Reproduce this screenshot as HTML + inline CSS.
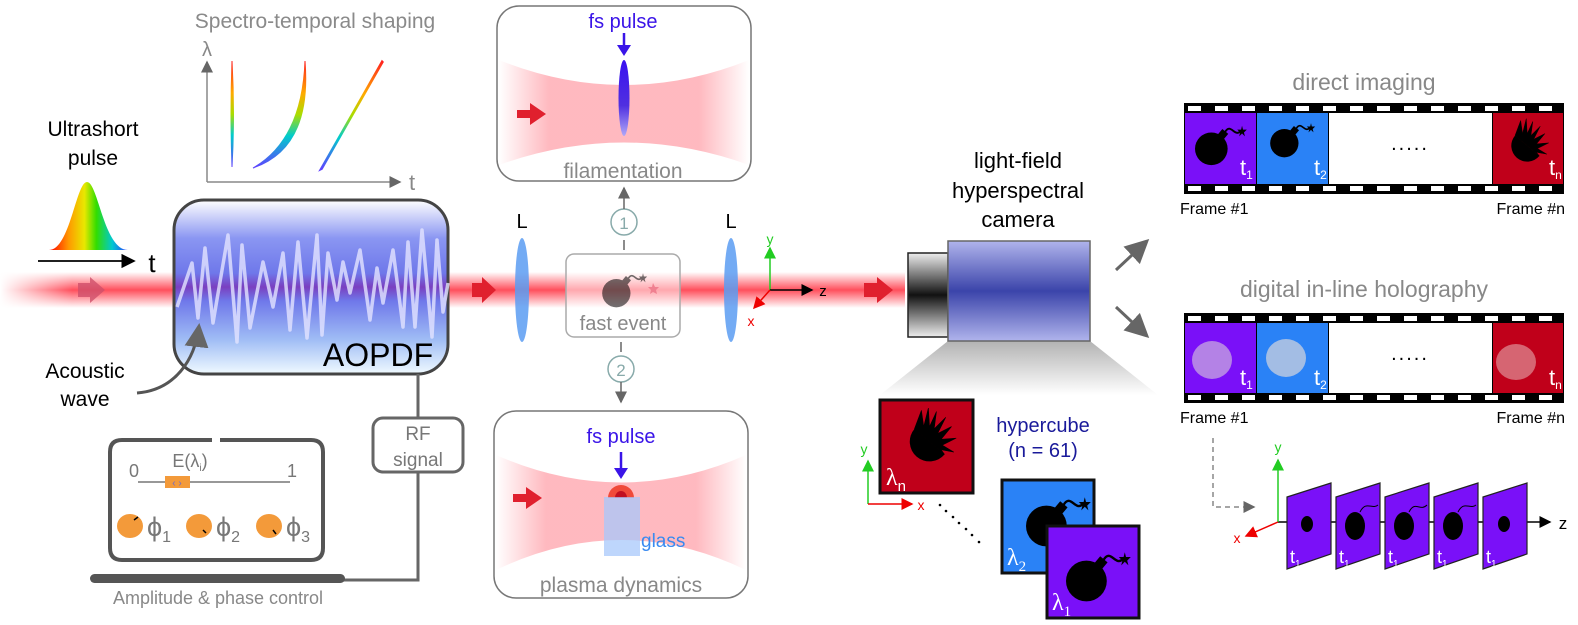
<!DOCTYPE html>
<html><head><meta charset="utf-8"><style>
html,body{margin:0;padding:0;background:#fff;}
svg{display:block;font-family:"Liberation Sans",sans-serif;}
</style></head><body>
<svg width="1578" height="625" viewBox="0 0 1578 625" xmlns="http://www.w3.org/2000/svg">
<defs>
<linearGradient id="beamV" x1="0" y1="0" x2="0" y2="1">
<stop offset="0" stop-color="#ff3040" stop-opacity="0"/>
<stop offset="0.5" stop-color="#ff3040" stop-opacity="0.85"/>
<stop offset="1" stop-color="#ff3040" stop-opacity="0"/>
</linearGradient>
<linearGradient id="beamH" x1="0" y1="0" x2="1" y2="0">
<stop offset="0" stop-color="#fff" stop-opacity="1"/>
<stop offset="0.08" stop-color="#fff" stop-opacity="0"/>
<stop offset="1" stop-color="#fff" stop-opacity="0"/>
</linearGradient>
<linearGradient id="aopdf" x1="0" y1="0" x2="0" y2="1">
<stop offset="0" stop-color="#ffffff"/>
<stop offset="0.22" stop-color="#8a96f2"/>
<stop offset="0.42" stop-color="#6f78ea"/>
<stop offset="0.5" stop-color="#7a3fc0"/>
<stop offset="0.58" stop-color="#6f78ea"/>
<stop offset="0.8" stop-color="#9fbcf5"/>
<stop offset="1" stop-color="#f0faff"/>
</linearGradient>
<linearGradient id="rainbow" x1="0" y1="0" x2="1" y2="0">
<stop offset="0" stop-color="#ff0000"/><stop offset="0.25" stop-color="#ff9900"/>
<stop offset="0.45" stop-color="#e8e800"/><stop offset="0.6" stop-color="#33dd00"/>
<stop offset="0.8" stop-color="#00c8d0"/><stop offset="1" stop-color="#2a3cff"/>
</linearGradient>
<linearGradient id="rainV" x1="0" y1="0" x2="0" y2="1">
<stop offset="0" stop-color="#ff2020"/><stop offset="0.3" stop-color="#ffaa00"/>
<stop offset="0.5" stop-color="#aadd00"/><stop offset="0.7" stop-color="#00cccc"/>
<stop offset="1" stop-color="#6040ff"/>
</linearGradient>
<linearGradient id="waist" x1="0" y1="0" x2="1" y2="0">
<stop offset="0" stop-color="#ff5060" stop-opacity="0"/>
<stop offset="0.2" stop-color="#ff5060" stop-opacity="0.4"/>
<stop offset="0.8" stop-color="#ff5060" stop-opacity="0.4"/>
<stop offset="1" stop-color="#ff5060" stop-opacity="0"/>
</linearGradient>
<linearGradient id="cam" x1="0" y1="0" x2="0" y2="1">
<stop offset="0" stop-color="#b0b4ec"/><stop offset="0.5" stop-color="#3b44aa"/><stop offset="1" stop-color="#b0b4ec"/>
</linearGradient>
<linearGradient id="camf" x1="0" y1="0" x2="0" y2="1">
<stop offset="0" stop-color="#eee"/><stop offset="0.5" stop-color="#111"/><stop offset="1" stop-color="#eee"/>
</linearGradient>
<linearGradient id="cone" x1="0" y1="0" x2="0" y2="1">
<stop offset="0" stop-color="#aaa"/><stop offset="1" stop-color="#fff"/>
</linearGradient>
<linearGradient id="ell" x1="0" y1="0" x2="0" y2="1">
<stop offset="0" stop-color="#3a10f0"/><stop offset="0.6" stop-color="#5030e0"/><stop offset="1" stop-color="#b0a8f8"/>
</linearGradient>
<symbol id="bomb" viewBox="0 0 60 50">
<circle cx="22" cy="30" r="17" fill="#000"/>
<rect x="30" y="11" width="8" height="8" transform="rotate(40 34 15)" fill="#000"/>
<path d="M36 13 C42 2,46 18,52 12" stroke="#000" stroke-width="2" fill="none"/>
<polygon points="54,6 55,10 59,10 56,13 57,17 54,14 51,17 52,13 49,10 53,10" fill="#000"/>
</symbol>
<symbol id="boom" viewBox="0 0 60 50">
<path d="M14 18 A16 16 0 1 0 40 40 Z" fill="#000"/>
<polygon points="14,18 20,2 22,16 26,0 27,16 33,3 31,18 41,8 34,22 46,16 37,27 50,26 38,32 48,38 37,36 40,40" fill="#000" stroke="#000" stroke-width="0.5"/>
</symbol>
<marker id="ah" markerWidth="8" markerHeight="8" refX="7" refY="4" orient="auto"><path d="M0,0 L8,4 L0,8 Z" fill="#000"/></marker>
<marker id="ahg" markerWidth="8" markerHeight="8" refX="7" refY="4" orient="auto"><path d="M0,0 L8,4 L0,8 Z" fill="#666"/></marker>
<marker id="ahr" markerWidth="8" markerHeight="8" refX="7" refY="4" orient="auto"><path d="M0,0 L8,4 L0,8 Z" fill="#e00"/></marker>
<marker id="ahgr" markerWidth="8" markerHeight="8" refX="7" refY="4" orient="auto"><path d="M0,0 L8,4 L0,8 Z" fill="#2c2"/></marker>
</defs>

<rect x="0" y="272" width="905" height="36" fill="url(#beamV)"/>
<rect x="0" y="270" width="905" height="40" fill="url(#beamH)"/>
<path d="M78 283 L90 283 L90 277 L105 290 L90 303 L90 297 L78 297 Z" fill="#d0506a" opacity="0.8"/>

<text x="315" y="28" font-size="21" fill="#8a8a8a" text-anchor="middle">Spectro-temporal shaping</text>
<line x1="207" y1="182" x2="207" y2="62" stroke="#888" stroke-width="1.5" marker-end="url(#ahg)"/>
<line x1="207" y1="182" x2="400" y2="182" stroke="#888" stroke-width="1.5" marker-end="url(#ahg)"/>
<text x="207" y="56" font-size="20" fill="#888" text-anchor="middle">λ</text>
<text x="412" y="190" font-size="22" fill="#888" text-anchor="middle">t</text>
<path d="M232 61 Q235 114 232 167 Q230 114 232 61 Z" fill="url(#rainV)" stroke="url(#rainV)" stroke-width="1"/>
<path d="M305 61 Q312 148 253 168 Q302 140 305 61 Z" fill="url(#rainV)" stroke="url(#rainV)" stroke-width="1"/>
<path d="M382 61 L320 170 L322 169 L383 62 Z" fill="url(#rainV)" stroke="url(#rainV)" stroke-width="1.5"/>

<text x="93" y="136" font-size="21" text-anchor="middle">Ultrashort</text>
<text x="93" y="165" font-size="21" text-anchor="middle">pulse</text>
<path d="M49 250 C70 250,76 182,87 182 C98 182,104 250,128 250 Z" fill="url(#rainbow)"/>
<line x1="38" y1="261" x2="134" y2="261" stroke="#000" stroke-width="1.8" marker-end="url(#ah)"/>
<text x="152" y="272" font-size="26" text-anchor="middle">t</text>

<rect x="174" y="200" width="274" height="174" rx="30" fill="url(#aopdf)" stroke="#444" stroke-width="3"/>
<polyline points="177,307 192,263 198,318 205,248 213,323 228,235 237,342 242,245 250,328 263,262 273,307 283,253 290,330 298,242 307,338 317,235 322,335 328,253 337,300 343,262 350,293 360,250 370,320 377,268 383,303 393,250 403,327 408,242 415,327 422,230 432,337 437,240 443,312 448,283" fill="none" stroke="#e4e4ff" stroke-opacity="0.8" stroke-width="3.5" stroke-linejoin="round"/>
<text x="378" y="366" font-size="32" text-anchor="middle">AOPDF</text>
<text x="85" y="378" font-size="21" text-anchor="middle">Acoustic</text>
<text x="85" y="406" font-size="21" text-anchor="middle">wave</text>
<path d="M137 393 C175 390,195 360,199 326" fill="none" stroke="#555" stroke-width="3" marker-end="url(#ahg)"/>

<line x1="418" y1="374" x2="418" y2="418" stroke="#666" stroke-width="3"/>
<rect x="373" y="418" width="90" height="54" rx="10" fill="#fff" stroke="#666" stroke-width="3"/>
<text x="418" y="440" font-size="19" fill="#777" text-anchor="middle">RF</text>
<text x="418" y="466" font-size="19" fill="#777" text-anchor="middle">signal</text>
<polyline points="418,472 418,580 340,580" fill="none" stroke="#666" stroke-width="3"/>

<path d="M212 440 L122 440 Q110 440 110 452 L110 548 Q110 560 122 560 L311 560 Q323 560 323 548 L323 452 Q323 440 311 440 L220 440" fill="none" stroke="#555" stroke-width="4"/>
<rect x="90" y="574" width="255" height="9" rx="4.5" fill="#555"/>
<text x="218" y="604" font-size="18" fill="#888" text-anchor="middle">Amplitude &amp; phase control</text>
<text x="134" y="477" font-size="18" fill="#777" text-anchor="middle">0</text>
<text x="292" y="477" font-size="18" fill="#777" text-anchor="middle">1</text>
<text x="190" y="467" font-size="18" fill="#777" text-anchor="middle">E(λ<tspan font-size="10" dy="4">i</tspan><tspan dy="-4">)</tspan></text>
<line x1="138" y1="482" x2="290" y2="482" stroke="#777" stroke-width="1.5"/>
<rect x="165" y="476" width="25" height="12" fill="#f39a3a"/>
<text x="177" y="486" font-size="10" fill="#6a6ad0" text-anchor="middle">‹ ›</text>
<g fill="#f39a3a"><ellipse cx="130" cy="526" rx="13" ry="12"/><ellipse cx="199" cy="526" rx="13" ry="12"/><ellipse cx="269" cy="526" rx="13" ry="12"/></g>
<g stroke="#000" stroke-width="1.5"><line x1="134" y1="520" x2="138" y2="517"/><line x1="203" y1="530" x2="206" y2="533"/><line x1="273" y1="530" x2="276" y2="534"/></g>
<g font-size="27" fill="#777"><text x="147" y="536">ϕ<tspan font-size="16" dy="6">1</tspan></text><text x="216" y="536">ϕ<tspan font-size="16" dy="6">2</tspan></text><text x="286" y="536">ϕ<tspan font-size="16" dy="6">3</tspan></text></g>

<text x="522" y="228" font-size="20" text-anchor="middle">L</text>
<text x="731" y="228" font-size="20" text-anchor="middle">L</text>
<ellipse cx="522" cy="290" rx="7" ry="52" fill="#5a9cf2" opacity="0.85"/>
<ellipse cx="731" cy="290" rx="7" ry="52" fill="#5a9cf2" opacity="0.85"/>
<path d="M472 283 L482 283 L482 277 L496 290 L482 303 L482 297 L472 297 Z" fill="#e0202e"/>

<rect x="566" y="254" width="114" height="83" rx="8" fill="#fff" fill-opacity="0.5" stroke="#aaa" stroke-width="1.5"/>
<g opacity="0.55"><use href="#bomb" x="598" y="268" width="50" height="42"/></g>
<polygon points="653,283 655,287 659,287 656,290 657,294 653,292 650,294 651,290 648,287 652,287" fill="#f08090"/>
<text x="623" y="330" font-size="20" fill="#888" text-anchor="middle">fast event</text>
<circle cx="624" cy="222" r="13" fill="#fff" stroke="#8aa" stroke-width="1.5"/>
<text x="624" y="229" font-size="17" fill="#8aa" text-anchor="middle">1</text>
<line x1="624" y1="209" x2="624" y2="188" stroke="#666" stroke-width="1.5" marker-end="url(#ahg)"/>
<line x1="624" y1="240" x2="624" y2="250" stroke="#666" stroke-width="1.5"/>
<circle cx="621" cy="369" r="13" fill="#fff" stroke="#8aa" stroke-width="1.5"/>
<text x="621" y="376" font-size="17" fill="#8aa" text-anchor="middle">2</text>
<line x1="621" y1="342" x2="621" y2="352" stroke="#666" stroke-width="1.5"/>
<line x1="621" y1="382" x2="621" y2="402" stroke="#666" stroke-width="1.5" marker-end="url(#ahg)"/>

<rect x="497" y="6" width="254" height="175" rx="22" fill="#fff" stroke="#777" stroke-width="1.5"/>
<path d="M499 60 Q624 110 749 60 L749 165 Q624 120 499 165 Z" fill="url(#waist)"/>
<text x="623" y="28" font-size="20" fill="#3a14e8" text-anchor="middle">fs pulse</text>
<line x1="624" y1="33" x2="624" y2="48" stroke="#3a14e8" stroke-width="2.5"/>
<path d="M617 45 L631 45 L624 56 Z" fill="#3a14e8"/>
<ellipse cx="624" cy="98" rx="5.5" ry="38" fill="url(#ell)"/>
<path d="M517 110 L530 110 L530 103 L546 114 L530 125 L530 118 L517 118 Z" fill="#e0202e"/>
<text x="623" y="178" font-size="21" fill="#888" text-anchor="middle">filamentation</text>

<rect x="494" y="411" width="254" height="187" rx="22" fill="#fff" stroke="#777" stroke-width="1.5"/>
<path d="M496 455 Q621 510 746 455 L746 570 Q621 510 496 570 Z" fill="url(#waist)"/>
<text x="621" y="443" font-size="20" fill="#3a14e8" text-anchor="middle">fs pulse</text>
<line x1="621" y1="452" x2="621" y2="470" stroke="#3a14e8" stroke-width="2.5"/>
<path d="M614 468 L628 468 L621 479 Z" fill="#3a14e8"/>
<path d="M608 498 A13 13 0 0 1 634 498 Z" fill="#f04a3a"/>
<path d="M615 498 A6 7 0 0 1 627 498 Z" fill="#c01020"/>
<rect x="604" y="497" width="36" height="59" fill="#a8c8fb" opacity="0.75"/>
<text x="641" y="547" font-size="19" fill="#3a8af0">glass</text>
<path d="M513 494 L526 494 L526 487 L542 498 L526 509 L526 502 L513 502 Z" fill="#e0202e"/>
<text x="621" y="592" font-size="21" fill="#888" text-anchor="middle">plasma dynamics</text>

<line x1="770" y1="290" x2="770" y2="248" stroke="#2c2" stroke-width="1.5" marker-end="url(#ahgr)"/>
<line x1="770" y1="290" x2="812" y2="290" stroke="#000" stroke-width="1.5" marker-end="url(#ah)"/>
<line x1="770" y1="290" x2="754" y2="308" stroke="#e00" stroke-width="1.5" marker-end="url(#ahr)"/>
<text x="770" y="244" font-size="14" fill="#2c2" text-anchor="middle">y</text>
<text x="823" y="296" font-size="15" text-anchor="middle">z</text>
<text x="751" y="326" font-size="14" fill="#e00" text-anchor="middle">x</text>
<path d="M864 283 L877 283 L877 277 L893 290 L877 303 L877 297 L864 297 Z" fill="#e0202e"/>

<path d="M948 341 L1090 341 L1158 395 L880 395 Z" fill="url(#cone)" opacity="0.9"/>
<rect x="908" y="253" width="40" height="84" fill="url(#camf)" stroke="#222" stroke-width="1.5"/>
<rect x="948" y="241" width="142" height="100" fill="url(#cam)" stroke="#666" stroke-width="1.5"/>
<text x="1018" y="168" font-size="22" text-anchor="middle">light-field</text>
<text x="1018" y="198" font-size="22" text-anchor="middle">hyperspectral</text>
<text x="1018" y="227" font-size="22" text-anchor="middle">camera</text>

<rect x="880" y="400" width="93" height="93" fill="#c0001a" stroke="#111" stroke-width="3"/>
<use href="#boom" x="898" y="408" width="70" height="58"/>
<text x="886" y="485" font-size="24" fill="#fff" font-family="Liberation Serif,serif">λ<tspan font-size="15" dy="6" font-family="Liberation Sans,sans-serif">n</tspan></text>
<text x="1043" y="432" font-size="20" fill="#1a1a9a" text-anchor="middle">hypercube</text>
<text x="1043" y="457" font-size="20" fill="#1a1a9a" text-anchor="middle">(n = 61)</text>
<line x1="868" y1="504" x2="868" y2="461" stroke="#2c2" stroke-width="1.5" marker-end="url(#ahgr)"/>
<line x1="868" y1="504" x2="912" y2="504" stroke="#e00" stroke-width="1.5" marker-end="url(#ahr)"/>
<text x="864" y="454" font-size="14" fill="#2c2" text-anchor="middle">y</text>
<text x="921" y="510" font-size="14" fill="#e00" text-anchor="middle">x</text>
<g fill="#000"><circle cx="940" cy="505" r="1.3"/><circle cx="946" cy="511" r="1.3"/><circle cx="953" cy="517" r="1.3"/><circle cx="959" cy="523" r="1.3"/><circle cx="966" cy="529" r="1.3"/><circle cx="972" cy="535" r="1.3"/><circle cx="979" cy="542" r="1.3"/></g>
<rect x="1002" y="480" width="92" height="93" fill="#2a82f6" stroke="#111" stroke-width="3"/>
<use href="#bomb" x="1020" y="490" width="72" height="60"/>
<text x="1007" y="565" font-size="24" fill="#fff" font-family="Liberation Serif,serif">λ<tspan font-size="15" dy="6">2</tspan></text>
<rect x="1047" y="526" width="92" height="92" fill="#7a10f8" stroke="#111" stroke-width="3"/>
<use href="#bomb" x="1060" y="545" width="72" height="60"/>
<text x="1052" y="610" font-size="24" fill="#fff" font-family="Liberation Serif,serif">λ<tspan font-size="15" dy="6">1</tspan></text>

<line x1="1116" y1="270" x2="1147" y2="241" stroke="#666" stroke-width="3" marker-end="url(#ahg)"/>
<line x1="1116" y1="307" x2="1147" y2="336" stroke="#666" stroke-width="3" marker-end="url(#ahg)"/>

<text x="1364" y="90" font-size="23" fill="#888" text-anchor="middle">direct imaging</text>
<rect x="1184" y="103" width="380" height="91" fill="#000"/>
<g fill="#fff">
<rect x="1188" y="106" width="13" height="5"/><rect x="1215" y="106" width="13" height="5"/><rect x="1242" y="106" width="13" height="5"/><rect x="1269" y="106" width="13" height="5"/><rect x="1296" y="106" width="13" height="5"/><rect x="1323" y="106" width="13" height="5"/><rect x="1350" y="106" width="13" height="5"/><rect x="1377" y="106" width="13" height="5"/><rect x="1404" y="106" width="13" height="5"/><rect x="1431" y="106" width="13" height="5"/><rect x="1458" y="106" width="13" height="5"/><rect x="1485" y="106" width="13" height="5"/><rect x="1512" y="106" width="13" height="5"/><rect x="1539" y="106" width="13" height="5"/>
<rect x="1188" y="186" width="13" height="5"/><rect x="1215" y="186" width="13" height="5"/><rect x="1242" y="186" width="13" height="5"/><rect x="1269" y="186" width="13" height="5"/><rect x="1296" y="186" width="13" height="5"/><rect x="1323" y="186" width="13" height="5"/><rect x="1350" y="186" width="13" height="5"/><rect x="1377" y="186" width="13" height="5"/><rect x="1404" y="186" width="13" height="5"/><rect x="1431" y="186" width="13" height="5"/><rect x="1458" y="186" width="13" height="5"/><rect x="1485" y="186" width="13" height="5"/><rect x="1512" y="186" width="13" height="5"/><rect x="1539" y="186" width="13" height="5"/>
</g>
<rect x="1185" y="113" width="71" height="71" fill="#7a10f8"/>
<rect x="1257" y="113" width="71" height="71" fill="#2a82f6"/>
<rect x="1329" y="113" width="163" height="71" fill="#fff"/>
<rect x="1493" y="113" width="70" height="71" fill="#c0001a"/>
<text x="1410" y="150" font-size="20" text-anchor="middle" letter-spacing="2">.....</text>
<use href="#bomb" x="1190" y="120" width="58" height="48"/>
<use href="#bomb" x="1266" y="118" width="50" height="42"/>
<use href="#boom" x="1502" y="118" width="56" height="48"/>
<g fill="#fff" font-size="22"><text x="1240" y="175">t<tspan font-size="12" dy="4">1</tspan></text><text x="1314" y="175">t<tspan font-size="12" dy="4">2</tspan></text><text x="1549" y="175">t<tspan font-size="12" dy="4">n</tspan></text></g>
<text x="1180" y="214" font-size="16">Frame #1</text>
<text x="1565" y="214" font-size="16" text-anchor="end">Frame #n</text>

<text x="1364" y="297" font-size="23" fill="#888" text-anchor="middle">digital in-line holography</text>
<rect x="1184" y="313" width="380" height="90" fill="#000"/>
<g fill="#fff">
<rect x="1188" y="316" width="13" height="5"/><rect x="1215" y="316" width="13" height="5"/><rect x="1242" y="316" width="13" height="5"/><rect x="1269" y="316" width="13" height="5"/><rect x="1296" y="316" width="13" height="5"/><rect x="1323" y="316" width="13" height="5"/><rect x="1350" y="316" width="13" height="5"/><rect x="1377" y="316" width="13" height="5"/><rect x="1404" y="316" width="13" height="5"/><rect x="1431" y="316" width="13" height="5"/><rect x="1458" y="316" width="13" height="5"/><rect x="1485" y="316" width="13" height="5"/><rect x="1512" y="316" width="13" height="5"/><rect x="1539" y="316" width="13" height="5"/>
<rect x="1188" y="395" width="13" height="5"/><rect x="1215" y="395" width="13" height="5"/><rect x="1242" y="395" width="13" height="5"/><rect x="1269" y="395" width="13" height="5"/><rect x="1296" y="395" width="13" height="5"/><rect x="1323" y="395" width="13" height="5"/><rect x="1350" y="395" width="13" height="5"/><rect x="1377" y="395" width="13" height="5"/><rect x="1404" y="395" width="13" height="5"/><rect x="1431" y="395" width="13" height="5"/><rect x="1458" y="395" width="13" height="5"/><rect x="1485" y="395" width="13" height="5"/><rect x="1512" y="395" width="13" height="5"/><rect x="1539" y="395" width="13" height="5"/>
</g>
<rect x="1185" y="323" width="71" height="70" fill="#7a10f8"/>
<rect x="1257" y="323" width="71" height="70" fill="#2a82f6"/>
<rect x="1329" y="323" width="163" height="70" fill="#fff"/>
<rect x="1493" y="323" width="70" height="70" fill="#c0001a"/>
<text x="1410" y="360" font-size="20" text-anchor="middle" letter-spacing="2">.....</text>
<ellipse cx="1212" cy="360" rx="20" ry="19" fill="#c8a8e0" opacity="0.75"/>
<ellipse cx="1286" cy="358" rx="20" ry="19" fill="#b8c8e0" opacity="0.85"/>
<ellipse cx="1516" cy="362" rx="20" ry="18" fill="#e09098" opacity="0.7"/>
<g fill="#fff" font-size="22"><text x="1240" y="385">t<tspan font-size="12" dy="4">1</tspan></text><text x="1314" y="385">t<tspan font-size="12" dy="4">2</tspan></text><text x="1549" y="385">t<tspan font-size="12" dy="4">n</tspan></text></g>
<text x="1180" y="423" font-size="16">Frame #1</text>
<text x="1565" y="423" font-size="16" text-anchor="end">Frame #n</text>

<polyline points="1213,438 1213,507 1254,507" fill="none" stroke="#888" stroke-width="1.5" stroke-dasharray="5,4" marker-end="url(#ahg)"/>
<line x1="1278" y1="522" x2="1550" y2="522" stroke="#000" stroke-width="1.5" marker-end="url(#ah)"/>
<line x1="1278" y1="522" x2="1278" y2="460" stroke="#2c2" stroke-width="1.5" marker-end="url(#ahgr)"/>
<line x1="1278" y1="522" x2="1246" y2="536" stroke="#e00" stroke-width="1.5" marker-end="url(#ahr)"/>
<text x="1278" y="452" font-size="14" fill="#2c2" text-anchor="middle">y</text>
<text x="1237" y="543" font-size="14" fill="#e00" text-anchor="middle">x</text>
<text x="1563" y="529" font-size="17" text-anchor="middle">z</text>
<g stroke="#222" stroke-width="1.2" fill="#7a10f8">
<polygon points="1287,497 1331,483 1331,554 1287,569"/>
<polygon points="1336,497 1380,483 1380,554 1336,569"/>
<polygon points="1385,497 1429,483 1429,554 1385,569"/>
<polygon points="1434,497 1478,483 1478,554 1434,569"/>
<polygon points="1483,497 1527,483 1527,554 1483,569"/>
</g>
<g fill="#000">
<ellipse cx="1307" cy="524" rx="6" ry="8"/>
<ellipse cx="1355" cy="526" rx="10" ry="14"/>
<ellipse cx="1404" cy="526" rx="10" ry="14"/>
<ellipse cx="1453" cy="526" rx="10" ry="14"/>
<ellipse cx="1504" cy="524" rx="6" ry="8"/>
</g>
<g fill="none" stroke="#000" stroke-width="1">
<path d="M1360 512 C1366 500,1372 510,1378 505"/><path d="M1409 512 C1415 500,1420 512,1427 505"/><path d="M1458 512 C1464 500,1470 510,1476 505"/>
</g>
<g fill="#fff" font-size="18"><text x="1290" y="563">t<tspan font-size="10" dy="4">1</tspan></text><text x="1339" y="563">t<tspan font-size="10" dy="4">1</tspan></text><text x="1388" y="563">t<tspan font-size="10" dy="4">1</tspan></text><text x="1437" y="563">t<tspan font-size="10" dy="4">1</tspan></text><text x="1486" y="563">t<tspan font-size="10" dy="4">1</tspan></text></g>
</svg>
</body></html>
